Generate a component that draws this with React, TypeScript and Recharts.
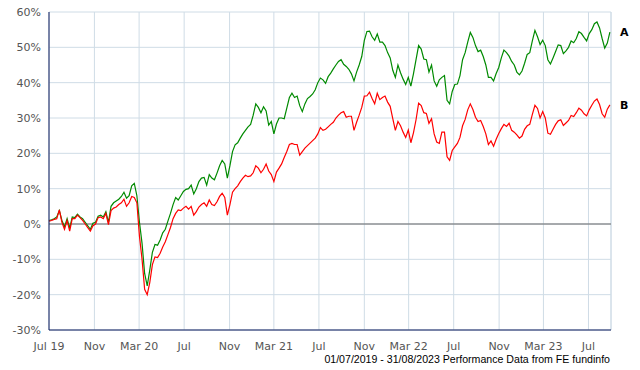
import React from 'react';
import {
  LineChart,
  Line,
  XAxis,
  YAxis,
  CartesianGrid,
  ReferenceLine,
  LabelList,
} from 'recharts';

const startDate = '2019-07-01';
const endDate = '2023-08-31';

const tickDates = [
  '2019-07-01', '2019-11-01', '2020-03-01', '2020-07-01', '2020-11-01',
  '2021-03-01', '2021-07-01', '2021-11-01', '2022-03-01', '2022-07-01',
  '2022-11-01', '2023-03-01', '2023-07-01',
];
const tickLabels = [
  'Jul 19', 'Nov', 'Mar 20', 'Jul', 'Nov', 'Mar 21', 'Jul', 'Nov',
  'Mar 22', 'Jul', 'Nov', 'Mar 23', 'Jul',
];
const yTicks = [-30, -20, -10, 0, 10, 20, 30, 40, 50, 60];

// weekly % growth readings, starting 01/07/2019
const seriesA = [
  1.0, 1.2, 1.5, 2.0, 3.8, 1.0, -0.8, 1.5, -1.2, 2.0,
  1.8, 2.8, 2.0, 1.5, 0.5, -0.5, -1.5, 0.2, 0.5, 2.2,
  2.5, 2.0, 3.5, 0.5, 5.0, 6.0, 6.5, 7.0, 7.8, 9.0,
  7.3, 8.0, 10.8, 11.5, 8.0, 0.5, -5.5, -14.0, -17.5, -13.0,
  -8.0, -5.8, -6.0, -4.5, -2.5, -1.5, 0.8, 3.0, 5.5, 7.5,
  6.8, 8.0, 9.2, 9.8, 10.0, 11.0, 8.5, 10.0, 12.0, 13.0,
  13.2, 11.0, 14.0, 13.0, 12.5, 14.4, 16.5, 18.0, 17.0, 13.0,
  16.5, 20.5, 22.4, 23.0, 24.3, 25.5, 26.5, 27.5, 28.2, 30.8,
  34.0, 33.0, 31.5, 33.2, 32.0, 28.0, 29.0, 25.5, 28.3, 30.0,
  30.0, 29.8, 32.8, 35.8, 37.0, 35.8, 36.2, 33.5, 31.8, 34.0,
  35.5, 36.1, 36.8, 38.0, 40.0, 41.3, 40.8, 39.8, 41.7, 42.7,
  43.9, 45.0, 46.0, 46.5, 45.2, 44.6, 43.8, 42.5, 40.5, 43.0,
  45.0, 47.4, 52.0, 54.5, 54.6, 53.0, 52.0, 53.8, 51.5, 51.5,
  50.5, 48.5, 47.0, 43.5, 41.5, 45.0, 42.8, 41.0, 39.5, 41.5,
  39.0, 42.5, 46.5, 50.5, 49.5, 46.7, 46.5, 43.0, 45.0, 40.5,
  39.0, 40.8, 41.5, 42.0, 35.0, 34.0, 37.5, 39.5, 39.6, 42.0,
  46.5, 48.5, 51.5, 54.2, 52.8, 50.5, 48.8, 49.2, 47.4, 45.0,
  41.5, 41.5, 40.5, 42.6, 44.3, 47.0, 49.2, 48.5, 47.5, 46.0,
  45.0, 43.0, 42.2, 43.3, 45.5, 48.0, 48.5, 51.8, 54.8, 53.0,
  50.8, 52.0, 50.5, 46.5, 45.3, 47.0, 48.8, 50.7, 50.5, 48.2,
  49.0, 50.0, 51.8, 51.3, 52.5, 54.4, 53.9, 52.8, 51.8, 53.9,
  55.0, 56.7, 57.2, 55.5, 52.5, 49.8, 51.2, 54.3,
];

const seriesB = [
  0.8, 1.0, 1.3, 1.5, 4.0, 0.5, -1.5, 1.0, -2.0, 1.5,
  1.5, 2.5, 1.8, 1.0, 0.0, -1.0, -2.0, -0.5, 0.0, 1.8,
  2.0, 1.5, 3.0, -0.2, 3.8, 4.5, 4.8, 5.5, 6.0, 7.0,
  5.0, 6.0, 7.8, 7.5, 6.0, -3.5, -10.0, -18.5, -20.0, -16.5,
  -11.5, -9.3, -9.5, -8.3, -6.5, -5.0, -3.0, -1.0, 1.5, 3.0,
  4.0, 3.8, 4.5, 5.0, 4.2, 5.0, 2.5, 3.5, 4.8, 5.5,
  6.0, 5.0, 6.8, 5.5, 5.2, 6.3, 7.8, 8.7, 7.5, 2.5,
  5.5, 9.0, 10.0, 10.8, 12.0, 13.0, 13.8, 13.4, 13.6, 14.5,
  16.5, 15.8, 14.5, 15.5, 17.0, 15.0, 14.0, 12.0, 14.7, 15.8,
  17.0, 18.8, 20.5, 22.5, 22.8, 22.5, 22.5, 19.5, 20.5, 21.5,
  22.2, 22.9, 23.6, 24.3, 25.5, 27.3, 26.5, 26.8, 27.5, 28.2,
  28.8, 30.0, 30.8, 31.5, 31.8, 30.2, 30.5, 30.5, 26.5, 28.8,
  30.8, 33.0, 36.2, 36.3, 37.3, 35.5, 34.0, 37.0, 35.2, 35.8,
  36.2, 34.5, 33.3, 29.8, 26.5, 29.0, 27.8, 26.0, 24.5, 26.6,
  23.0, 25.8, 29.5, 34.2, 33.5, 31.5, 31.3, 28.5, 29.8, 25.5,
  23.2, 22.8, 26.0, 26.0, 19.0, 18.0, 20.8, 21.8, 22.8, 24.5,
  27.8, 29.6, 32.3, 34.0, 32.4, 30.2, 29.0, 29.3, 27.6, 25.5,
  22.5, 23.5, 22.0, 24.0, 25.6, 27.0, 28.2, 27.6, 28.5, 26.5,
  26.0, 25.2, 24.3, 24.9, 26.8, 27.8, 28.2, 31.0, 33.6, 32.7,
  30.0, 31.8, 30.0, 25.7, 25.4, 26.8, 28.2, 29.2, 29.5, 27.9,
  28.6, 29.3, 30.7, 30.4, 31.5, 32.8, 32.2, 31.2, 30.6, 32.3,
  33.6, 34.8, 35.4, 33.8, 31.2, 30.2, 32.5, 33.7,
];

const dayOf = (s: string) => (Date.parse(s) - Date.parse(startDate)) / 86400000;
const tickDays = tickDates.map(dayOf);
const endDay = dayOf(endDate);

const data = seriesA.map((a, i) => ({ day: i * 7, a, b: seriesB[i] }));
const lastIndex = data.length - 1;

const colors = {
  a: '#008a00',
  b: '#ff0000',
  grid: '#cfdce6',
  axis: '#0a1a5c',
  zero: '#666666',
  text: '#555555',
};

const font = 'DejaVu Sans, Verdana, sans-serif';

function EndLabel(props: any) {
  const { index, x, y, name } = props;
  if (index !== lastIndex) return null;
  return (
    <text
      x={x + 10}
      y={y}
      dy={4}
      fontFamily={font}
      fontSize={11}
      fontWeight="bold"
      fill="#000"
    >
      {name}
    </text>
  );
}

export default function App() {
  return (
    <div style={{ position: 'absolute', left: 0, top: 0, width: 640, height: 370, background: '#fff' }}>
      <LineChart
        width={640}
        height={370}
        data={data}
        margin={{ top: 12, right: 29, bottom: 10, left: 4 }}
      >
        <CartesianGrid stroke={colors.grid} strokeWidth={1} />
        <XAxis
          dataKey="day"
          type="number"
          domain={[0, endDay]}
          ticks={tickDays}
          tickFormatter={(v) => tickLabels[tickDays.indexOf(v)]}
          height={30}
          stroke={colors.axis}
          tickLine={false}
          tickMargin={6}
          tick={{ fill: colors.text, fontSize: 11, fontFamily: font }}
          interval={0}
        />
        <YAxis
          domain={[-30, 60]}
          ticks={yTicks}
          width={45}
          stroke={colors.axis}
          tickLine={false}
          tick={{ fill: colors.text, fontSize: 11, fontFamily: font }}
          tickFormatter={(v) => `${v}%`}
          interval={0}
        />
        <ReferenceLine x={endDay} stroke={colors.grid} />
        <ReferenceLine y={0} stroke={colors.zero} />
        <Line
          type="linear"
          dataKey="a"
          stroke={colors.a}
          strokeWidth={1.2}
          dot={false}
          isAnimationActive={false}
        >
          <LabelList dataKey="a" content={(p: any) => <EndLabel {...p} name="A" />} />
        </Line>
        <Line
          type="linear"
          dataKey="b"
          stroke={colors.b}
          strokeWidth={1.2}
          dot={false}
          isAnimationActive={false}
        >
          <LabelList dataKey="b" content={(p: any) => <EndLabel {...p} name="B" />} />
        </Line>
      </LineChart>
      <div
        style={{
          position: 'absolute',
          right: 30,
          top: 353,
          fontFamily: 'Liberation Sans, Arial, sans-serif',
          fontSize: 10.6,
          color: '#000',
          whiteSpace: 'nowrap',
        }}
      >
        01/07/2019 - 31/08/2023 Performance Data from FE fundinfo
      </div>
    </div>
  );
}
